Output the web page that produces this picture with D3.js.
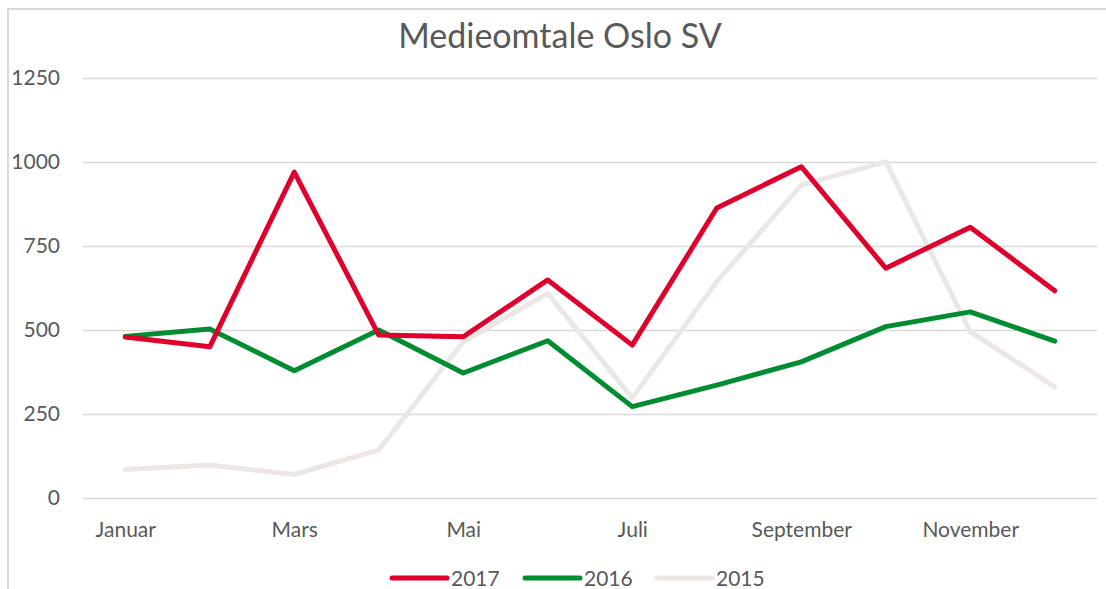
<!DOCTYPE html>
<html>
<head>
<meta charset="utf-8">
<script src="https://cdn.jsdelivr.net/npm/d3@7"></script>
<style>
  body { margin: 0; background: #fff; }
  svg { display: block; font-family: Lato, "Open Sans", sans-serif; }
</style>
</head>
<body>
<svg id="chart" width="1106" height="589"></svg>
<script>
const months = ['Januar', 'Februar', 'Mars', 'April', 'Mai', 'Juni', 'Juli', 'August', 'September', 'Oktober', 'November', 'Desember']
const shownMonths = ['Januar', 'Mars', 'Mai', 'Juli', 'September', 'November']
const yTicks = [0, 250, 500, 750, 1000, 1250]

const years = ['2017', '2016', '2015']
const values2017 = [479, 450, 970, 485, 480, 649, 455, 863, 986, 684, 806, 617]
const values2016 = [481, 503, 379, 500, 372, 468, 272, 336, 405, 510, 554, 467]
const values2015 = [85, 98, 70, 143, 465, 609, 298, 644, 931, 1001, 495, 331]
const colors = ['#e0002b', '#008c30', '#ece7e4']

let series = [values2017, values2016, values2015]

let width = 1106
let height = 589
let margin = { left: 83, right: 9, top: 78, bottom: 91 }
let textColor = '#595959'

let svg = d3.select('#chart')

// chart box border (left and top visible)
svg.append('path')
  .attr('d', `M8,${height} V9 H${width}`)
  .attr('fill', 'none')
  .attr('stroke', '#d9d9d9')
  .attr('stroke-width', 2)

let x = d3.scalePoint()
  .domain(months)
  .range([margin.left, width - margin.right])
  .padding(0.5)

let y = d3.scaleLinear()
  .domain([0, 1250])
  .range([height - margin.bottom, margin.top])

// gridlines
svg.append('g')
  .attr('transform', `translate(${margin.left},0)`)
  .call(d3.axisLeft(y).tickValues(yTicks).tickSize(-(width - margin.left - margin.right)).tickFormat(''))
  .call(g => g.select('.domain').remove())
  .call(g => g.selectAll('line').attr('stroke', '#d9d9d9').attr('stroke-width', 1.6))

// y labels
svg.append('g')
  .attr('transform', `translate(${margin.left},0)`)
  .call(d3.axisLeft(y).tickValues(yTicks).tickSize(0).tickPadding(23).tickFormat(d3.format('d')))
  .call(g => g.select('.domain').remove())
  .call(g => g.selectAll('text')
    .attr('fill', textColor)
    .style('font-size', '21px')
    .style('font-family', 'Lato, sans-serif'))

// x labels
svg.append('g')
  .attr('transform', `translate(0,${y(0)})`)
  .call(d3.axisBottom(x).tickValues(shownMonths).tickSize(0).tickPadding(24))
  .call(g => g.select('.domain').remove())
  .call(g => g.selectAll('text')
    .attr('fill', textColor)
    .style('font-size', '21px')
    .style('font-family', 'Lato, sans-serif'))

let line = d3.line()
  .x((d, i) => x(months[i]))
  .y(d => y(d))

// draw 2015 first so it sits behind
let order = [2, 1, 0]
svg.append('g')
  .selectAll('path')
  .data(order)
  .enter().append('path')
  .attr('d', i => line(series[i]))
  .attr('fill', 'none')
  .attr('stroke', i => colors[i])
  .attr('stroke-width', 5)
  .attr('stroke-linejoin', 'round')
  .attr('stroke-linecap', 'round')

// title
svg.append('text')
  .attr('x', 560)
  .attr('y', 48)
  .attr('text-anchor', 'middle')
  .attr('fill', textColor)
  .style('font-size', '34px')
  .text('Medieomtale Oslo SV')

// legend
let legendX = [392, 525, 657]
let legend = svg.append('g')
  .selectAll('g')
  .data(years)
  .enter().append('g')
  .attr('transform', (d, i) => `translate(${legendX[i]},578)`)
legend.append('line')
  .attr('x1', 0).attr('x2', 55)
  .attr('stroke', (d, i) => colors[i])
  .attr('stroke-width', 5)
  .attr('stroke-linecap', 'round')
legend.append('text')
  .attr('x', 59)
  .attr('dy', '0.36em')
  .attr('fill', textColor)
  .style('font-size', '21px')
  .text(d => d)
</script>
</body>
</html>
